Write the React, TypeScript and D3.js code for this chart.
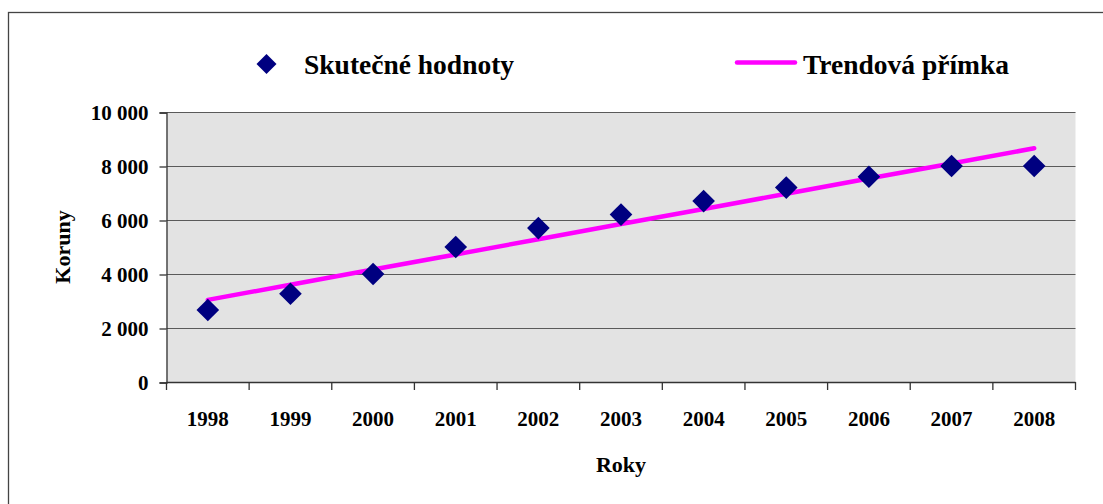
import React, { useEffect, useRef } from 'react'
import * as d3 from 'd3'

const years = ['1998', '1999', '2000', '2001', '2002', '2003', '2004', '2005', '2006', '2007', '2008']
const actual = [2667, 3270, 4000, 5000, 5700, 6200, 6700, 7200, 7600, 8000, 8000]
const yTicks = [0, 2000, 4000, 6000, 8000, 10000]
const seriesNames = ['Skutečné hodnoty', 'Trendová přímka']

const FONT = '"Liberation Serif", "Times New Roman", serif'

// least squares trend over the category index
function trend(values: number[]) {
  const xs = values.map((_, i) => i)
  const mx = d3.mean(xs) as number
  const my = d3.mean(values) as number
  const sxy = d3.sum(xs, (x, i) => (x - mx) * (values[i] - my))
  const sxx = d3.sum(xs, x => (x - mx) * (x - mx))
  const b = sxy / sxx
  const a = my - b * mx
  return values.map((_, i) => a + b * i)
}

const App = () => {
  const ref = useRef<SVGSVGElement>(null)

  useEffect(() => {
    const svg = d3.select(ref.current)
    svg.selectAll('*').remove()
    const plot = { left: 166.5, right: 1075.5, top: 112, bottom: 382 }

    const x = d3.scaleBand().domain(years).range([plot.left, plot.right])
    const cx = (yr: string) => (x(yr) as number) + x.bandwidth() / 2
    const y = d3.scaleLinear().domain([0, 10000]).range([plot.bottom, plot.top])
    const fmt = (v: number) => d3.format(',')(v).replace(/,/g, ' ')

    // outer frame (runs past the right and bottom edges)
    svg.append('rect')
      .attr('x', 8.5).attr('y', 12.5)
      .attr('width', 1110).attr('height', 510)
      .attr('fill', '#fff').attr('stroke', '#444').attr('stroke-width', 1.3)

    svg.append('rect')
      .attr('x', plot.left).attr('y', plot.top)
      .attr('width', plot.right - plot.left).attr('height', plot.bottom - plot.top)
      .attr('fill', '#e3e3e3')

    // grid
    svg.append('g').selectAll('line')
      .data(yTicks.filter(t => t > 0))
      .enter().append('line')
      .attr('x1', plot.left).attr('x2', plot.right)
      .attr('y1', d => Math.round(y(d)) + 0.5).attr('y2', d => Math.round(y(d)) + 0.5)
      .attr('stroke', '#5a5a5a').attr('stroke-width', 1)

    // y axis
    const yAxis = d3.axisLeft(y).tickValues(yTicks).tickSize(7).tickPadding(11).tickFormat(d => fmt(d as number))
    const gy = svg.append('g').attr('transform', `translate(${plot.left},0.5)`).call(yAxis)
    gy.select('.domain').attr('stroke', '#333').attr('stroke-width', 1.3)
    gy.selectAll('.tick line').attr('stroke', '#333').attr('stroke-width', 1.3)
    gy.selectAll('.tick text')
      .attr('font-family', FONT).attr('font-weight', 'bold').attr('font-size', 21).attr('fill', '#000')
      .attr('dy', '0.34em')

    // x axis with ticks between categories
    const bounds = years.map(yr => x(yr) as number).concat([plot.right])
    const gx = svg.append('g')
    gx.append('line')
      .attr('x1', plot.left).attr('x2', plot.right)
      .attr('y1', plot.bottom + 0.5).attr('y2', plot.bottom + 0.5)
      .attr('stroke', '#333').attr('stroke-width', 1.3)
    gx.selectAll('.tk').data(bounds).enter().append('line')
      .attr('x1', d => d).attr('x2', d => d)
      .attr('y1', plot.bottom).attr('y2', plot.bottom + 8)
      .attr('stroke', '#333').attr('stroke-width', 1.3)
    gx.selectAll('text').data(years).enter().append('text')
      .attr('x', d => cx(d))
      .attr('y', 426)
      .attr('text-anchor', 'middle')
      .attr('font-family', FONT).attr('font-weight', 'bold').attr('font-size', 21)
      .text(d => d)

    // axis titles
    svg.append('text')
      .attr('x', (plot.left + plot.right) / 2).attr('y', 472)
      .attr('text-anchor', 'middle')
      .attr('font-family', FONT).attr('font-weight', 'bold').attr('font-size', 22)
      .text('Roky')
    svg.append('text')
      .attr('transform', `translate(70,${(plot.top + plot.bottom) / 2}) rotate(-90)`)
      .attr('text-anchor', 'middle')
      .attr('font-family', FONT).attr('font-weight', 'bold').attr('font-size', 22)
      .text('Koruny')

    // trend line
    const tr = trend(actual)
    const trendPts: [string, number][] = years.map((yr, i) => [yr, tr[i]])
    const line = d3.line<[string, number]>()
      .x(d => cx(d[0]))
      .y(d => y(d[1]))
    svg.append('path')
      .attr('d', line(trendPts) as string)
      .attr('fill', 'none').attr('stroke', '#ff00ff').attr('stroke-width', 4.5).attr('stroke-linecap', 'round')

    // data points
    const diamond = d3.symbol().type(d3.symbolSquare).size(256)
    svg.append('g').selectAll('path')
      .data(actual)
      .enter().append('path')
      .attr('d', diamond as any)
      .attr('transform', (d, i) => `translate(${cx(years[i])},${y(d)}) rotate(45)`)
      .attr('fill', '#000080')

    // legend
    const lg = svg.append('g')
    lg.append('path')
      .attr('d', d3.symbol().type(d3.symbolSquare).size(200)() as string)
      .attr('transform', 'translate(266.5,64) rotate(45)')
      .attr('fill', '#000080')
    lg.append('text')
      .attr('x', 304).attr('y', 74)
      .attr('font-family', FONT).attr('font-weight', 'bold').attr('font-size', 27.5)
      .text(seriesNames[0])
    lg.append('line')
      .attr('x1', 737).attr('x2', 795).attr('y1', 62.5).attr('y2', 62.5)
      .attr('stroke', '#ff00ff').attr('stroke-width', 4.5).attr('stroke-linecap', 'round')
    lg.append('text')
      .attr('x', 803).attr('y', 74)
      .attr('font-family', FONT).attr('font-weight', 'bold').attr('font-size', 27.5)
      .text(seriesNames[1])
  }, [])

  return (
    <svg ref={ref} width={1103} height={504} style={{ position: 'absolute', left: 0, top: 0 }} />
  )
}

export default App
